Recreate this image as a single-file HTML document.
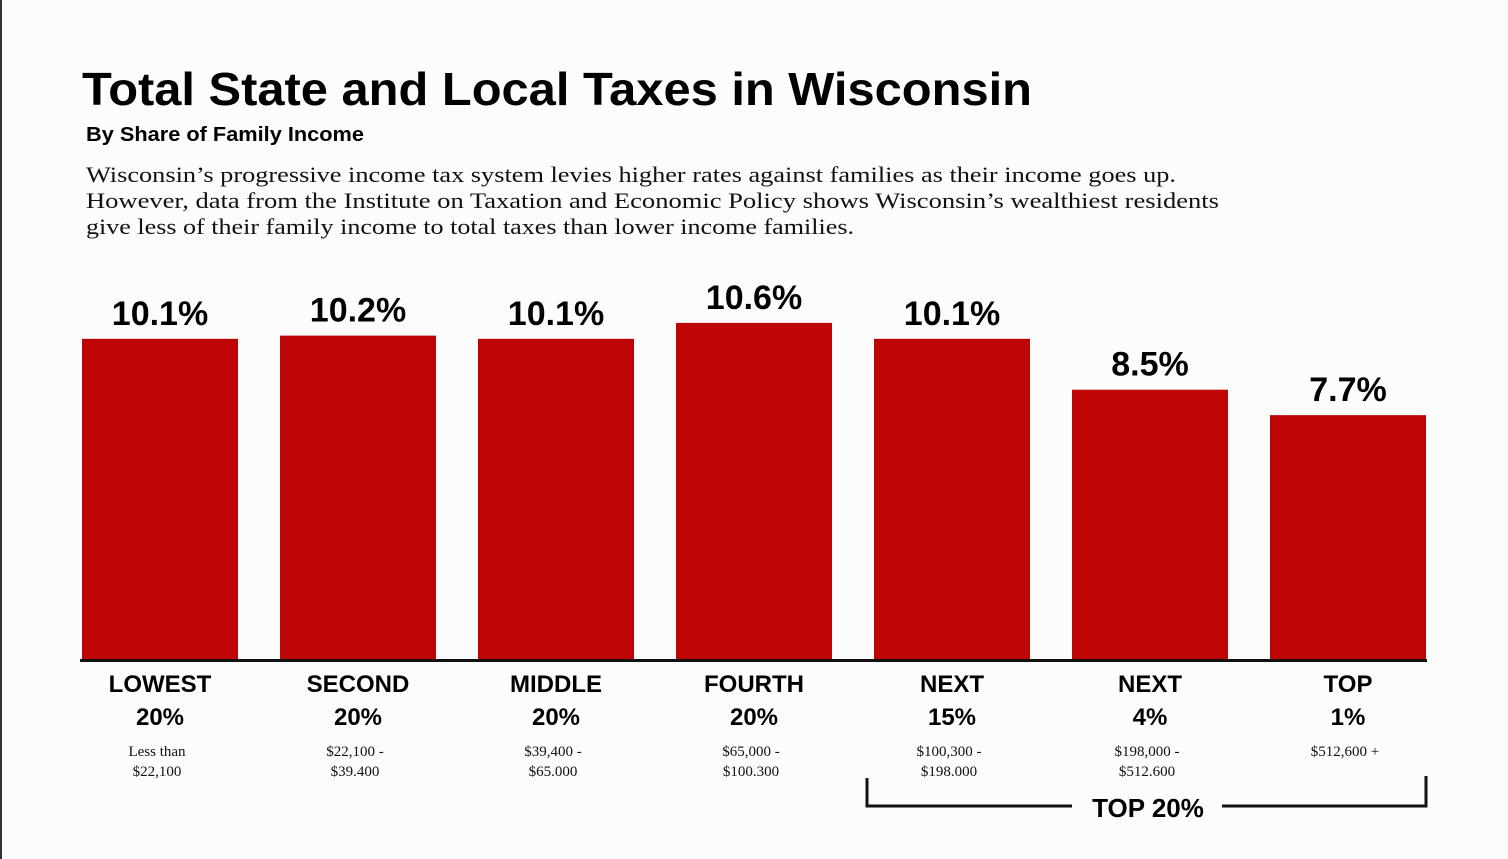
<!DOCTYPE html>
<html><head><meta charset="utf-8"><style>
body{margin:0;background:#fdfcfc;}
svg{display:block}
.t{font-family:"Liberation Sans",sans-serif;font-weight:bold;fill:#000}
.s{font-family:"Liberation Serif",serif;fill:#111}
</style></head><body>
<svg id="c" width="1508" height="859">
<rect x="0" y="0" width="2" height="859" fill="#333"/>
<text class="t" x="82" y="105" font-size="46" textLength="950" lengthAdjust="spacingAndGlyphs">Total State and Local Taxes in Wisconsin</text>
<text class="t" x="86" y="141" font-size="20" textLength="278" lengthAdjust="spacingAndGlyphs">By Share of Family Income</text>
<g class="s" font-size="22">
<text x="86" y="182" textLength="1090" lengthAdjust="spacingAndGlyphs">Wisconsin’s progressive income tax system levies higher rates against families as their income goes up.</text>
<text x="86" y="208" textLength="1133" lengthAdjust="spacingAndGlyphs">However, data from the Institute on Taxation and Economic Policy shows Wisconsin’s wealthiest residents</text>
<text x="86" y="234" textLength="768" lengthAdjust="spacingAndGlyphs">give less of their family income to total taxes than lower income families.</text>
</g>
<g id="bars"></g>
<rect x="80" y="659" width="1347" height="3" fill="#111"/>
<path d="M867 778 V806 H1072 M1222 806 H1426 V776" fill="none" stroke="#111" stroke-width="3"/>
<text class="t" x="1148" y="817" font-size="26" text-anchor="middle">TOP 20%</text>
</svg>
<script>
const categories=["LOWEST|20%","SECOND|20%","MIDDLE|20%","FOURTH|20%","NEXT|15%","NEXT|4%","TOP|1%"];
const values=[10.1,10.2,10.1,10.6,10.1,8.5,7.7];
const ranges=["Less than|$22,100","$22,100 -|$39.400","$39,400 -|$65.000","$65,000 -|$100.300","$100,300 -|$198.000","$198,000 -|$512.600","$512,600 +"];
const NS="http://www.w3.org/2000/svg";
const g=document.getElementById('bars');
const base=660, k=31.8, x0=82, step=198, bw=156;
const xs=i=>x0+i*step;
const ys=v=>base-v*k;
function mk(t,a){const e=document.createElementNS(NS,t);for(const n in a)e.setAttribute(n,a[n]);g.appendChild(e);return e;}
values.forEach((v,i)=>{
  const r=mk('rect',{x:xs(i),y:ys(v),width:bw,height:base-ys(v),fill:'#bd0505'});
  
  
  const cx=xs(i)+bw/2;
  const l=mk('text',{x:cx,y:ys(v)-14,'font-size':34,'text-anchor':'middle',class:'t'});
  l.textContent=v.toFixed(1)+'%';
  
  
  categories[i].split('|').forEach((s,j)=>{
    const c=mk('text',{x:cx,y:692+j*33,'font-size':24,'text-anchor':'middle',class:'t'});
    c.textContent=s;
    
    
  });
  ranges[i].split('|').forEach((s,j)=>{
    const c=mk('text',{x:cx-3,y:756+j*20,'font-size':15,'text-anchor':'middle',class:'s'});
    c.textContent=s;
    
    
  });
});
</script>
</body></html>
